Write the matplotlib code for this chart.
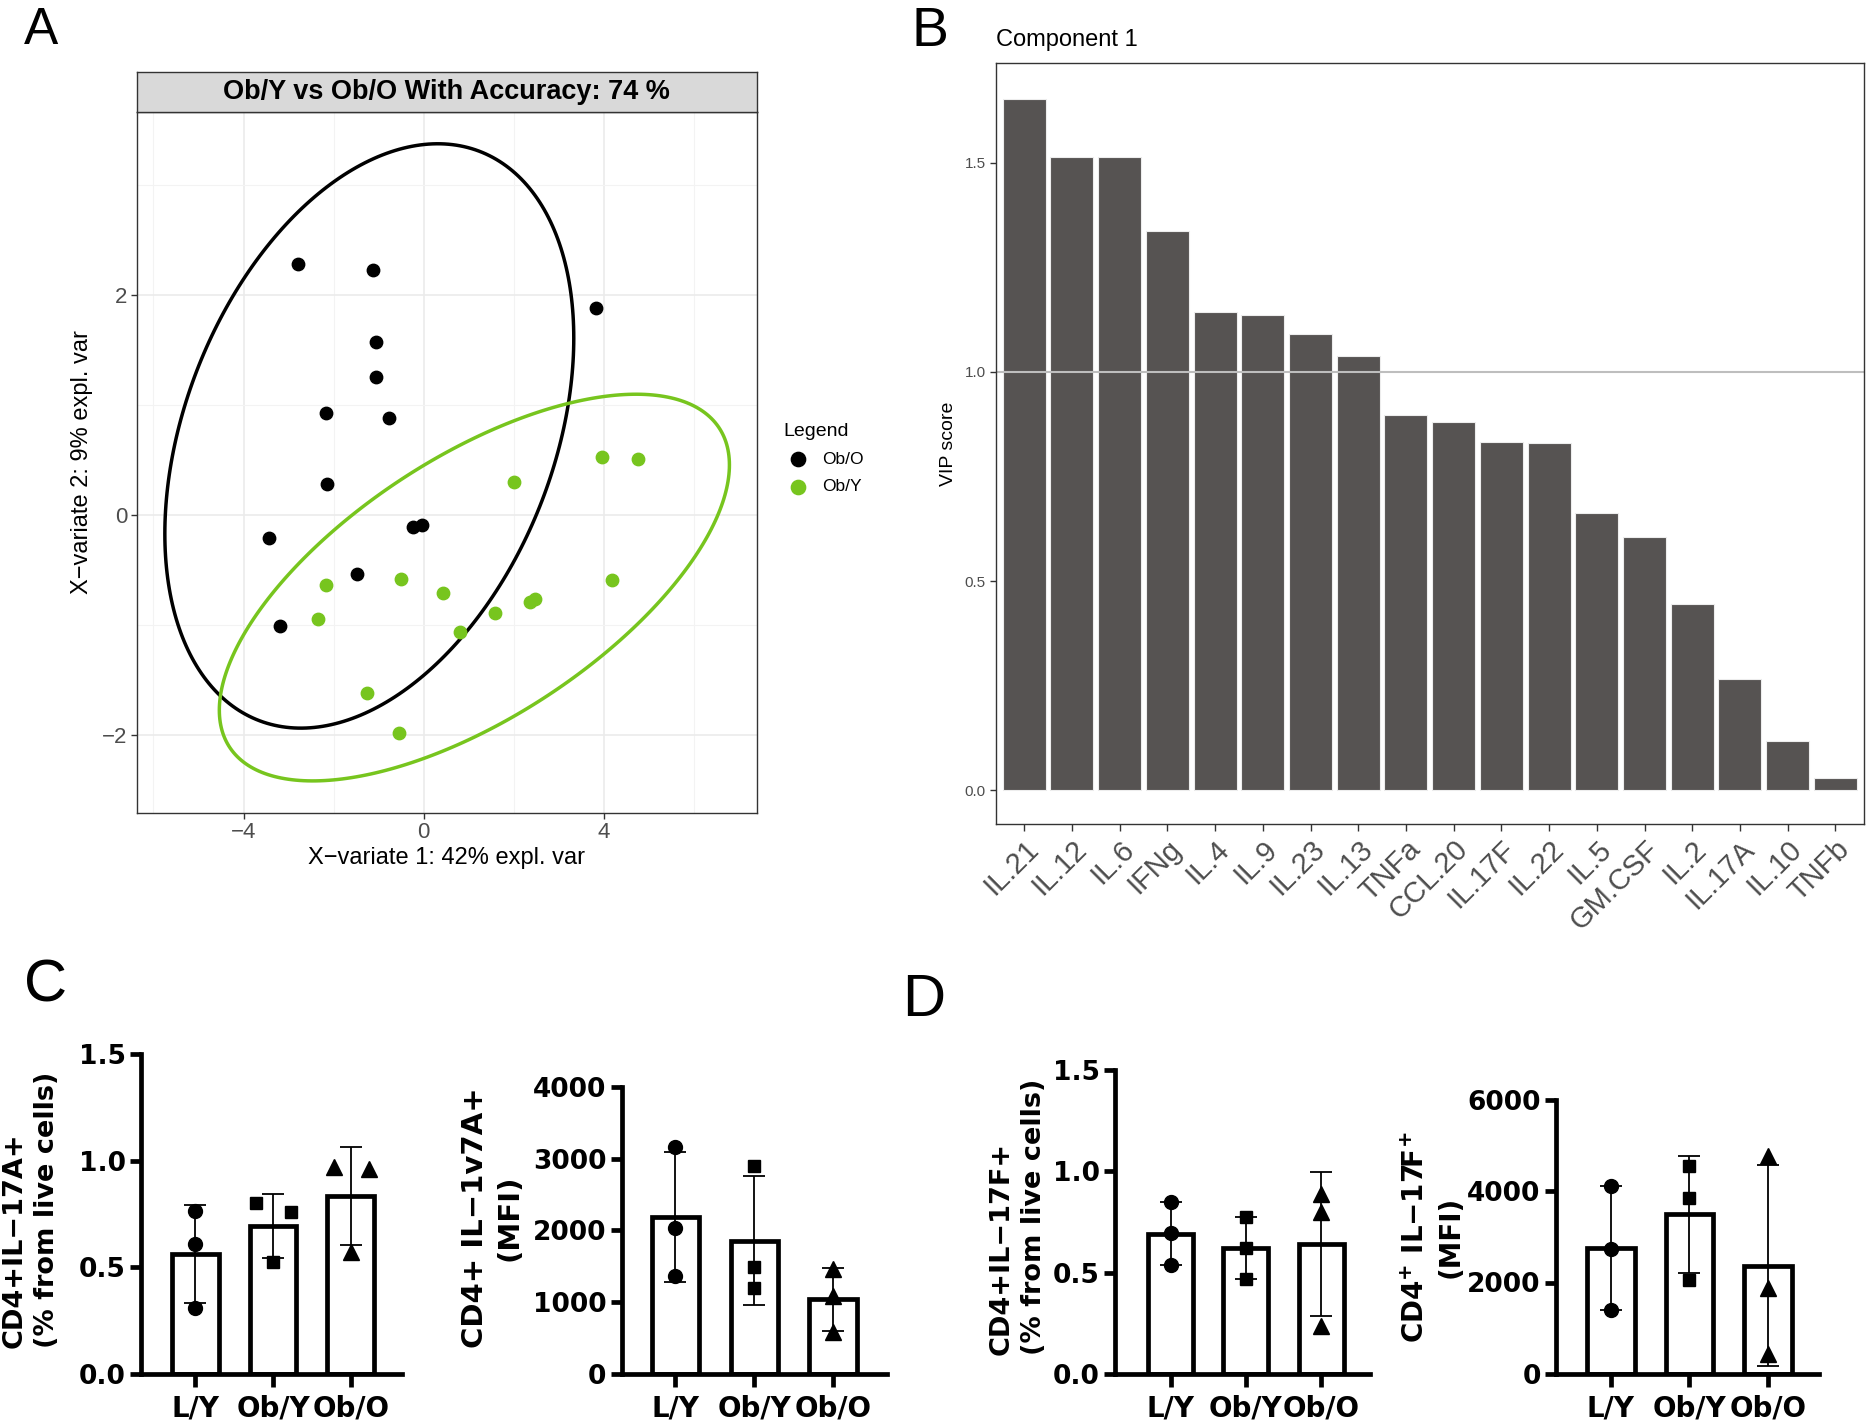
import matplotlib
matplotlib.use('Agg')
import matplotlib.pyplot as plt
from matplotlib.patches import Polygon
import numpy as np

plt.rcParams['font.family'] = ['Liberation Sans', 'DejaVu Sans']

# ---- Panel A: PLS-DA scores ----
obo_x = [-2.80, -1.12, 3.83, -1.06, -1.07, -2.18, -0.76, -2.15, -3.43, -0.24, -0.04, -1.48, -3.20]
obo_y = [2.28, 2.23, 1.88, 1.57, 1.25, 0.93, 0.88, 0.28, -0.21, -0.11, -0.09, -0.53, -1.01]
oby_x = [3.96, 4.76, 2.01, -2.17, -0.50, 0.43, -2.34, 1.58, 2.37, 2.47, 4.19, 0.80, -1.26, -0.55]
oby_y = [0.53, 0.51, 0.30, -0.63, -0.58, -0.71, -0.94, -0.89, -0.79, -0.76, -0.59, -1.06, -1.61, -1.98]

# ---- Panel B: VIP scores ----
vip_names = ['IL.21', 'IL.12', 'IL.6', 'IFNg', 'IL.4', 'IL.9', 'IL.23', 'IL.13', 'TNFa',
             'CCL.20', 'IL.17F', 'IL.22', 'IL.5', 'GM.CSF', 'IL.2', 'IL.17A', 'IL.10', 'TNFb']
vip_vals = [1.653, 1.515, 1.513, 1.337, 1.143, 1.136, 1.091, 1.039, 0.897,
            0.881, 0.832, 0.830, 0.663, 0.605, 0.446, 0.265, 0.117, 0.029]

# ---- Panels C/D: flow cytometry (3 mice per group) ----
groups = ['L/Y', 'Ob/Y', 'Ob/O']
il17a_pct = [[0.766, 0.609, 0.311], [0.802, 0.758, 0.523], [0.970, 0.962, 0.570]]
il17a_mfi = [[3161, 2028, 1366], [2890, 1483, 1203], [1459, 1086, 583]]
il17f_pct = [[0.848, 0.694, 0.537], [0.776, 0.621, 0.471], [0.889, 0.801, 0.236]]
il17f_mfi = [[4120, 2734, 1407], [4557, 3850, 2063], [4761, 1881, 445]]

W, H = 1866, 1422
fig = plt.figure(figsize=(W / 100, H / 100), dpi=100)


def box(l, t, r, b):
    # pixel box -> figure fraction
    return [l / W, 1 - b / H, (r - l) / W, (b - t) / H]


def ellipse(x, y, chi2=5.991):
    # 95% confidence ellipse from the group covariance
    pts = np.column_stack([x, y])
    mu = pts.mean(axis=0)
    L = np.linalg.cholesky(np.cov(pts.T))
    t = np.linspace(0, 2 * np.pi, 300, endpoint=False)
    e = L @ (np.sqrt(chi2) * np.vstack([np.cos(t), np.sin(t)])) + mu[:, None]
    return e.T


GREEN = '#77C51E'
TXT = '#4D4D4D'
EDGE = '#333333'

# Panel A
axA = fig.add_axes(box(136.8, 112, 757, 812.6))
axA.set_xlim(-6.37, 7.40)
axA.set_ylim(-2.70, 3.66)
axA.set_xticks([-4, 0, 4])
axA.set_yticks([-2, 0, 2])
axA.set_xticks([-6, -2, 2, 6], minor=True)
axA.set_yticks([-1, 1, 3], minor=True)
axA.grid(which='major', color='#EBEBEB', lw=1.2)
axA.grid(which='minor', color='#F3F3F3', lw=0.8)
axA.set_axisbelow(True)
axA.tick_params(which='minor', length=0)
axA.tick_params(which='major', length=4, width=1, color=EDGE, labelsize=16, labelcolor=TXT, pad=3)
for s in axA.spines.values():
    s.set_color(EDGE)
    s.set_linewidth(1)
axA.add_patch(Polygon(ellipse(obo_x, obo_y), closed=True, fill=False, edgecolor='black', lw=2.5))
axA.add_patch(Polygon(ellipse(oby_x, oby_y), closed=True, fill=False, edgecolor=GREEN, lw=2.5))
h1 = axA.scatter(obo_x, obo_y, s=80, color='black', zorder=3)
h2 = axA.scatter(oby_x, oby_y, s=80, color=GREEN, zorder=3)
axA.legend([h1, h2], ['Ob/O', 'Ob/Y'], loc='upper left', bbox_to_anchor=(774.5 / W, 1 - 414 / H),
           bbox_transform=fig.transFigure, frameon=False, title='Legend', title_fontsize=14,
           fontsize=12.5, borderpad=0, handlelength=1.7, handletextpad=0.54, labelspacing=0.7,
           alignment='left', markerscale=1.15)

axS = fig.add_axes(box(136.8, 72.4, 757, 112))
axS.set_facecolor('#D9D9D9')
axS.set_xticks([])
axS.set_yticks([])
for s in axS.spines.values():
    s.set_color(EDGE)
    s.set_linewidth(1)
axS.text(0.5, 0.5, 'Ob/Y vs Ob/O With Accuracy: 74 %', ha='center', va='center',
         weight='bold', size=19.5, transform=axS.transAxes)

fig.text(447 / W, 1 - 858 / H, 'X\u2212variate 1: 42% expl. var', ha='center', va='center', size=17)
fig.text(82.5 / W, 1 - 462 / H, 'X\u2212variate 2: 9% expl. var', ha='center', va='center',
         size=17, rotation=90)

# Panel B
axB = fig.add_axes(box(995.6, 63, 1864, 824))
xb = np.arange(len(vip_names))
axB.bar(xb, vip_vals, width=0.9, color='#565352', edgecolor='#EDEDED', linewidth=0.8)
axB.axhline(1.0, color='#BEBEBE', lw=1.5)
axB.set_xlim(-0.6, len(vip_names) - 0.4)
axB.set_ylim(-0.081, 1.739)
axB.set_yticks([0, 0.5, 1.0, 1.5])
axB.set_yticklabels(['0.0', '0.5', '1.0', '1.5'])
axB.set_xticks(xb)
axB.set_xticklabels(vip_names, rotation=45, ha='right', va='top', rotation_mode='anchor')
axB.tick_params(axis='y', length=4, width=1, color=EDGE, labelsize=11, labelcolor=TXT, pad=3)
axB.tick_params(axis='x', length=5, width=1, color=EDGE, labelsize=21, labelcolor=TXT, pad=3)
for s in axB.spines.values():
    s.set_color(EDGE)
    s.set_linewidth(1)
fig.text(995.6 / W, 1 - 40 / H, 'Component 1', ha='left', va='center', size=17)
fig.text(949 / W, 1 - 444 / H, 'VIP score', ha='center', va='center', size=14, rotation=90)

# Panel C/D bar+dot plots
markers = ['o', 's', '^']
msizes = [10, 9, 11]
LW = 3.4


def prism(rect, data, ylim, yticks, ylabels, xlim, jitter=None):
    ax = fig.add_axes(box(*rect))
    means = [np.mean(d) for d in data]
    sds = [np.std(d, ddof=1) for d in data]
    xs = np.arange(len(groups))
    ax.bar(xs, means, width=0.6, color='white', edgecolor='black', linewidth=LW, zorder=2)
    for i, d in enumerate(data):
        ax.errorbar(i, means[i], yerr=sds[i], color='black', elinewidth=1.3, capsize=8,
                    capthick=1.3, zorder=3)
        off = np.zeros(len(d)) if jitter is None else np.array(jitter[i])
        ax.plot(i + off, d, ls='none', marker=markers[i], ms=msizes[i], color='black',
                zorder=4, clip_on=False)
    ax.set_xlim(*xlim)
    ax.set_ylim(*ylim)
    ax.set_yticks(yticks)
    ax.set_yticklabels(ylabels)
    ax.set_xticks(xs)
    ax.set_xticklabels(groups)
    for s in ['top', 'right']:
        ax.spines[s].set_visible(False)
    for s in ['left', 'bottom']:
        ax.spines[s].set_linewidth(LW)
    ax.tick_params(axis='y', length=8, width=LW, pad=3)
    ax.tick_params(axis='x', length=9.5, width=LW, pad=5)
    for lab in ax.get_yticklabels():
        lab.set_fontfamily('DejaVu Sans')
        lab.set_fontweight('bold')
        lab.set_fontsize(19)
    for lab in ax.get_xticklabels():
        lab.set_fontfamily('DejaVu Sans')
        lab.set_fontweight('bold')
        lab.set_fontsize(20)
    return ax


pct_ticks = [0, 0.5, 1.0, 1.5]
pct_labels = ['0.0', '0.5', '1.0', '1.5']
prism((141, 1054, 402, 1374), il17a_pct, (0, 1.5), pct_ticks, pct_labels, (-0.70, 2.66),
      jitter=[[0, 0, 0], [-0.22, 0.23, 0.0], [-0.21, 0.23, 0.0]])
prism((621.7, 1086.7, 886.7, 1374), il17a_mfi, (0, 4000), [0, 1000, 2000, 3000, 4000],
      ['0', '1000', '2000', '3000', '4000'], (-0.68, 2.68))
prism((1115, 1070, 1370, 1374), il17f_pct, (0, 1.5), pct_ticks, pct_labels, (-0.74, 2.65))
prism((1556, 1099.5, 1819, 1374), il17f_mfi, (0, 6000), [0, 2000, 4000, 6000],
      ['0', '2000', '4000', '6000'], (-0.70, 2.65))

lab_kw = dict(ha='center', va='center', rotation=90, family='DejaVu Sans', weight='bold',
              linespacing=1.3)
fig.text(31 / W, 1 - 1210 / H, 'CD4+IL\u221217A+\n(% from live cells)', multialignment='left',
         size=19.5, **lab_kw)
fig.text(492 / W, 1 - 1218 / H, 'CD4+ IL\u22121v7A+\n(MFI)', multialignment='center',
         size=21, **lab_kw)
fig.text(1018 / W, 1 - 1217 / H, 'CD4+IL\u221217F+\n(% from live cells)', multialignment='left',
         size=19.5, **lab_kw)
fig.text(1433 / W, 1 - 1237 / H, 'CD4$^{\\mathbf{+}}$ IL\u221217F$^{\\mathbf{+}}$\n(MFI)',
         multialignment='center', size=20, **lab_kw)

# panel letters
fig.text(24 / W, 1 - 44 / H, 'A', size=37, va='baseline', ha='left')
fig.text(912 / W, 1 - 46 / H, 'B', size=40, va='baseline', ha='left')
fig.text(24 / W, 1 - 1001 / H, 'C', size=43, va='baseline', ha='left')
fig.text(902 / W, 1 - 1016 / H, 'D', size=43, va='baseline', ha='left')

fig.savefig('out.png', dpi=100)
